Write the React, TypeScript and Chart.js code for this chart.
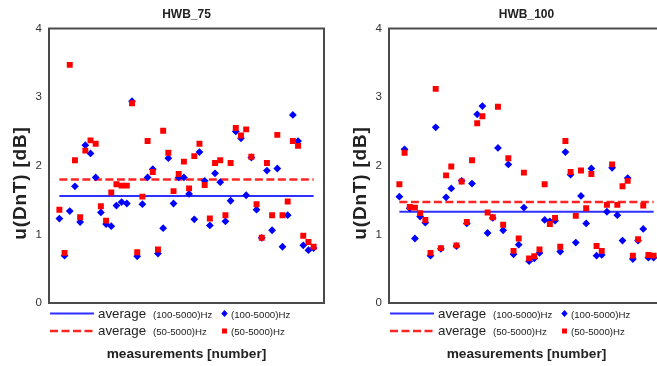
import React, { useEffect, useRef } from "react";
import { Chart, registerables } from "chart.js";

Chart.register(...registerables);

const FONT = "'Liberation Sans', Arial, sans-serif";

// measurement numbers on the (hidden) x axis
const measurementNo = [
  1, 2, 3, 4, 5, 6, 7, 8, 9, 10, 11, 12, 13, 14, 15, 16, 17, 18, 19, 20, 21, 22, 23, 24, 25,
  26, 27, 28, 29, 30, 31, 32, 33, 34, 35, 36, 37, 38, 39, 40, 41, 42, 43, 44, 45, 46, 47, 48, 49, 50,
];

const yTicks = [0, 1, 2, 3, 4];

// HWB_75 panel, u(DnT) in dB
const hwb75Band100 = [
  1.23, 0.69, 1.34, 1.7, 1.18, 2.3, 2.18, 1.83, 1.32, 1.15,
  1.12, 1.42, 1.47, 1.45, 2.94, 0.68, 1.44, 1.83, 1.95, 0.72,
  1.09, 2.11, 1.45, 1.83, 1.83, 1.59, 1.22, 2.2, 1.78, 1.13,
  1.89, 1.76, 1.19, 1.49, 2.5, 2.4, 1.57, 2.12, 1.36, 0.95,
  1.93, 1.06, 1.96, 0.82, 1.28, 2.74, 2.36, 0.84, 0.77, 0.8,
];
const hwb75Band50 = [
  1.36, 0.73, 3.47, 2.08, 1.25, 2.22, 2.37, 2.32, 1.41, 1.2,
  1.61, 1.73, 1.71, 1.71, 2.91, 0.74, 1.55, 2.36, 1.91, 0.78,
  2.51, 2.19, 1.63, 1.88, 2.06, 1.67, 2.14, 2.32, 1.72, 1.23,
  2.04, 2.08, 1.28, 2.04, 2.55, 2.44, 2.53, 2.13, 1.44, 0.95,
  2.04, 1.28, 2.45, 1.28, 1.48, 2.36, 2.29, 0.98, 0.89, 0.82,
];
const hwb75Averages = [1.56, 1.8]; // (100-5000)Hz, (50-5000)Hz

// HWB_100 panel, u(DnT) in dB
const hwb100Band100 = [
  1.55, 2.24, 1.38, 0.94, 1.26, 1.17, 0.69, 2.56, 0.79, 1.54,
  1.67, 0.83, 1.78, 1.16, 1.74, 2.75, 2.87, 1.02, 1.24, 2.26,
  1.06, 2.02, 0.71, 0.85, 1.39, 0.61, 0.65, 0.73, 1.21, 1.19,
  1.2, 0.75, 2.2, 1.87, 0.88, 1.56, 1.16, 1.96, 0.69, 0.7,
  1.33, 1.97, 1.28, 0.91, 1.82, 0.64, 0.91, 1.08, 0.66, 0.66,
];
const hwb100Band50 = [
  1.73, 2.19, 1.4, 1.39, 1.31, 1.21, 0.73, 3.12, 0.8, 1.86,
  1.99, 0.84, 1.77, 1.18, 2.08, 2.62, 2.72, 1.32, 1.25, 2.86,
  1.14, 2.11, 0.76, 0.94, 1.9, 0.65, 0.68, 0.78, 1.73, 1.15,
  1.24, 0.82, 2.36, 1.91, 1.27, 1.93, 1.38, 1.88, 0.83, 0.76,
  1.43, 2.02, 1.43, 1.7, 1.78, 0.69, 0.93, 1.42, 0.7, 0.69,
];
const hwb100Averages = [1.33, 1.47];

const BLUE = "#0000ff";
const RED = "#ff0000";
const BLUE_LINE = "#2f2fff";
const RED_LINE = "#ff2424";
const RED_DASH = [8, 3.5];

// frame, panel title, axis titles and the two-row legend under the plot
const panelDecor = {
  id: "panelDecor",
  beforeDatasetsDraw(chart: any) {
    const { ctx, chartArea: a } = chart;
    ctx.save();
    ctx.strokeStyle = "#4a4a4a";
    ctx.lineWidth = 2;
    ctx.strokeRect(a.left, a.top, a.right - a.left, a.bottom - a.top);
    ctx.restore();
  },
  afterDraw(chart: any, _args: any, opts: any) {
    const { ctx, chartArea: a } = chart;
    const cx = (a.left + a.right) / 2;
    const L = a.left;
    ctx.save();
    ctx.fillStyle = "#222";

    // panel title
    ctx.font = `bold 12px ${FONT}`;
    ctx.textAlign = "center";
    ctx.textBaseline = "alphabetic";
    ctx.fillText(opts.title, cx, 18);

    // y axis title
    ctx.save();
    ctx.translate(20.5, 183);
    ctx.rotate(-Math.PI / 2);
    ctx.font = `bold 19px ${FONT}`;
    (ctx as any).letterSpacing = "0.8px";
    ctx.textBaseline = "middle";
    ctx.fillText("u(DnT) [dB]", 0, 0);
    ctx.restore();

    // x axis title
    ctx.font = `bold 13.7px ${FONT}`;
    ctx.textAlign = "center";
    ctx.fillText("measurements [number]", cx, 357.5);

    // legend
    const rows = [
      { y: 313.5, base: 317.5, color: BLUE_LINE, width: 2, dash: [] as number[], band: "(100-5000)Hz", marker: "diamond" },
      { y: 331, base: 334.5, color: RED_LINE, width: 2.5, dash: RED_DASH, band: "(50-5000)Hz", marker: "square" },
    ];
    rows.forEach((r) => {
      ctx.save();
      ctx.strokeStyle = r.color;
      ctx.lineWidth = r.width;
      ctx.setLineDash(r.dash);
      ctx.beginPath();
      ctx.moveTo(L + 1, r.y);
      ctx.lineTo(L + 45, r.y);
      ctx.stroke();
      ctx.restore();

      ctx.textAlign = "left";
      ctx.fillStyle = "#222";
      ctx.font = `13.3px ${FONT}`;
      ctx.fillText("average", L + 49, r.base);
      ctx.font = `9.7px ${FONT}`;
      ctx.fillText(r.band, L + 104, r.base);
      ctx.fillText(r.band, L + 182, r.base);

      const mx = L + 175.5;
      ctx.beginPath();
      if (r.marker === "diamond") {
        ctx.fillStyle = BLUE;
        ctx.moveTo(mx - 3.2, r.y);
        ctx.lineTo(mx, r.y - 3.4);
        ctx.lineTo(mx + 3.2, r.y);
        ctx.lineTo(mx, r.y + 3.4);
        ctx.closePath();
      } else {
        ctx.fillStyle = RED;
        ctx.rect(mx - 2.5, r.y - 2.5, 5, 5);
      }
      ctx.fill();
    });
    ctx.restore();
  },
};

function buildConfig(title: string, band100: number[], band50: number[], averages: number[]): any {
  const first = measurementNo[0];
  const last = measurementNo[measurementNo.length - 1];
  return {
    type: "scatter",
    data: {
      datasets: [
        {
          label: "average (50-5000)Hz",
          type: "line",
          data: [
            { x: first, y: averages[1] },
            { x: last, y: averages[1] },
          ],
          borderColor: RED_LINE,
          borderWidth: 2.5,
          borderDash: RED_DASH,
          pointRadius: 0,
          fill: false,
          order: 3,
        },
        {
          label: "average (100-5000)Hz",
          type: "line",
          data: [
            { x: first, y: averages[0] },
            { x: last, y: averages[0] },
          ],
          borderColor: BLUE_LINE,
          borderWidth: 2,
          pointRadius: 0,
          fill: false,
          order: 2,
        },
        {
          label: "(100-5000)Hz",
          data: band100.map((y, i) => ({ x: measurementNo[i], y })),
          pointStyle: "rectRot",
          pointRadius: 3.9,
          backgroundColor: BLUE,
          borderColor: BLUE,
          borderWidth: 0,
          order: 1,
        },
        {
          label: "(50-5000)Hz",
          data: band50.map((y, i) => ({ x: measurementNo[i], y })),
          pointStyle: "rect",
          pointRadius: 4.2,
          backgroundColor: RED,
          borderColor: RED,
          borderWidth: 0,
          order: 0,
        },
      ],
    },
    options: {
      responsive: false,
      animation: false,
      events: [],
      layout: { padding: { top: 28.5, bottom: 63, left: 0, right: 16 } },
      plugins: {
        legend: { display: false },
        tooltip: { enabled: false },
        panelDecor: { title },
      },
      scales: {
        x: { type: "linear", min: -1, max: 52, display: false },
        y: {
          type: "linear",
          min: yTicks[0],
          max: yTicks[yTicks.length - 1],
          afterBuildTicks: (s: any) => {
            s.ticks = yTicks.map((v) => ({ value: v }));
          },
          ticks: { padding: 7, color: "#333", font: { family: FONT, size: 11.5 } },
          grid: { display: false, drawTicks: false },
          border: { display: false },
          afterFit: (s: any) => {
            s.width = 49;
          },
        },
      },
    },
    plugins: [panelDecor],
  };
}

function Panel({ left, config }: { left: number; config: () => any }) {
  const ref = useRef<HTMLCanvasElement | null>(null);
  useEffect(() => {
    if (!ref.current) return;
    const chart = new Chart(ref.current, config());
    return () => chart.destroy();
  }, []);
  return (
    <canvas
      ref={ref}
      width={340}
      height={366}
      style={{ position: "absolute", left, top: 0, width: 340, height: 366, display: "block" }}
    />
  );
}

export default function App() {
  return (
    <div
      style={{
        position: "fixed",
        left: 0,
        top: 0,
        width: 657,
        height: 366,
        overflow: "hidden",
        background: "#fff",
      }}
    >
      <Panel left={0} config={() => buildConfig("HWB_75", hwb75Band100, hwb75Band50, hwb75Averages)} />
      <Panel left={340} config={() => buildConfig("HWB_100", hwb100Band100, hwb100Band50, hwb100Averages)} />
    </div>
  );
}
